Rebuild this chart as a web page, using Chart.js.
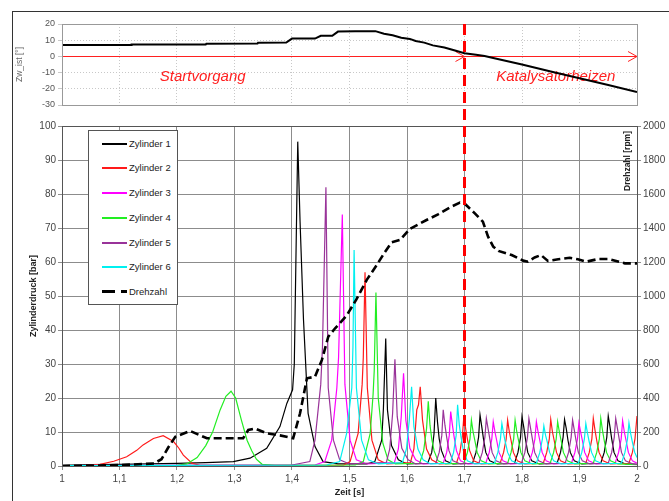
<!DOCTYPE html>
<html lang="de">
<head>
    <meta charset="UTF-8">
    <title>Zylinderdruck und Drehzahl</title>
    <script src="https://cdn.jsdelivr.net/npm/chart.js"></script>
    <style>
        body { margin: 0; background: #fff; font-family: "Liberation Sans", Arial, sans-serif; }
        #wrap { position: relative; width: 669px; height: 501px; overflow: hidden; }
        #wrap canvas { position: absolute; left: 0; top: 0; }
        .frame { position: absolute; left: 12px; top: 11px; width: 700px; height: 600px;
                 border-left: 1px solid #333; border-top: 1px solid #333; }
        #legend { position: absolute; left: 88px; top: 130px; width: 88px; height: 173px;
                  background: #fff; border: 1px solid #555; }
        .row { position: absolute; left: 0; height: 12px; font-size: 9.5px; color: #222; line-height: 12px; }
        .row .smp { position: absolute; left: 13px; top: 5px; width: 25px; height: 0; border-top: 2px solid #000; }
        .row .lbl { position: absolute; left: 40px; top: 0; white-space: nowrap; }
    </style>
</head>
<body>
<div id="wrap">
    <div class="frame"></div>
    <canvas id="mainChart" width="669" height="501"></canvas>
    <canvas id="angleChart" width="669" height="501"></canvas>
    <div id="legend"></div>
</div>

<script>
    // x axis tick labels (Zeit [s])
    const timeTicks = ['1', '1,1', '1,2', '1,3', '1,4', '1,5', '1,6', '1,7', '1,8', '1,9', '2'];
    const seriesNames = ['Zylinder 1', 'Zylinder 2', 'Zylinder 3', 'Zylinder 4', 'Zylinder 5', 'Zylinder 6', 'Drehzahl'];
    const seriesColors = ['#000000', '#ff1a1a', '#ff00ff', '#22ee22', '#993399', '#00f0f0', '#000000'];
    const markerTime = 1.7;

    // Zylinderdruck [bar], pairs [Zeit, Druck]
    const zyl1 = [[1.0,0.2],[1.05,0.4],[1.1,0.5],[1.15,0.6],[1.2,0.8],[1.25,1.0],[1.298,1.3],[1.327,2.3],[1.356,5.2],[1.379,11.6],[1.391,18.4],[1.401,22.4],[1.404,30],[1.41,95.4],[1.414,72],[1.42,43],[1.428,15.5],[1.44,5.7],[1.454,1.3],[1.48,0.6],
        [1.53,0.6],[1.544,1.3],[1.556,7.6],[1.559,17],[1.563,37.5],[1.566,16.5],[1.573,6],[1.585,1.8],[1.6,0.6],
        [1.636,0.8],[1.643,4],[1.647,9.5],[1.65,20],[1.653,13],[1.656,8],[1.66,4.5],[1.667,1.5],[1.68,0.6],
        [1.714,0.8],[1.72,4],[1.7245,8.5],[1.727,15],[1.73,11.6],[1.733,8],[1.737,4],[1.744,1.5],[1.757,0.6],
        [1.787,0.8],[1.793,4],[1.7975,8.5],[1.8,14.5],[1.803,11.5],[1.806,8],[1.81,4],[1.817,1.5],[1.83,0.6],
        [1.861,0.8],[1.867,4],[1.8715,8.5],[1.874,13.7],[1.877,11],[1.88,7.5],[1.884,4],[1.891,1.5],[1.904,0.6],
        [1.937,0.8],[1.943,4],[1.9475,8.5],[1.95,14.7],[1.953,11.5],[1.956,8],[1.96,4],[1.967,1.5],[1.98,0.6],[2.0,0.5]];
    const zyl2 = [[1.0,0.1],[1.04,0.2],[1.066,0.5],[1.09,1.4],[1.1125,2.7],[1.13,4.6],[1.141,6.2],[1.159,8.1],[1.176,8.9],[1.194,7.2],[1.203,5.3],[1.211,3.2],[1.226,0.8],[1.24,0.2],[1.49,0.3],
        [1.501,1.3],[1.515,9.6],[1.522,24],[1.524,32],[1.527,57],[1.531,23],[1.539,7.6],[1.55,1.8],[1.565,0.6],
        [1.606,1.0],[1.612,5],[1.617,16.5],[1.62,18],[1.623,23.3],[1.627,13.5],[1.634,5],[1.643,1.8],[1.656,0.6],
        [1.686,0.8],[1.692,4],[1.6965,9],[1.699,15],[1.702,11],[1.705,8],[1.709,4.5],[1.716,1.5],[1.729,0.6],
        [1.762,0.8],[1.768,4],[1.7725,8],[1.775,13.5],[1.778,10],[1.781,7.5],[1.785,4],[1.792,1.5],[1.805,0.6],
        [1.837,0.8],[1.843,4],[1.8475,8],[1.85,13.7],[1.853,10],[1.856,7.5],[1.86,4],[1.867,1.5],[1.88,0.6],
        [1.911,0.8],[1.917,4],[1.9215,8],[1.924,14],[1.927,10.5],[1.93,7.5],[1.934,4],[1.941,1.5],[1.954,0.6],
        [1.986,0.8],[1.992,4],[1.9965,8],[2.0,14.7]];
    const zyl3 = [[1.0,0.1],[1.44,0.3],[1.457,1.3],[1.469,7.6],[1.478,23],[1.481,32],[1.4875,74],[1.492,24],[1.501,7.6],[1.512,1.8],[1.53,0.6],
        [1.578,1.0],[1.585,5],[1.59,14.5],[1.594,27.3],[1.598,13.5],[1.605,5.2],[1.615,1.8],[1.628,0.6],
        [1.663,0.8],[1.669,4],[1.6735,9],[1.676,16],[1.679,12],[1.682,8.5],[1.686,4.5],[1.693,1.5],[1.706,0.6],
        [1.737,0.8],[1.743,4],[1.7475,8],[1.75,13],[1.753,10],[1.756,7.5],[1.76,4],[1.767,1.5],[1.78,0.6],
        [1.812,0.8],[1.818,4],[1.8225,8],[1.825,13],[1.828,10],[1.831,7.5],[1.835,4],[1.842,1.5],[1.855,0.6],
        [1.886,0.8],[1.892,4],[1.8965,8],[1.899,12.7],[1.902,10],[1.905,7.5],[1.909,4],[1.916,1.5],[1.929,0.6],
        [1.962,0.8],[1.968,4],[1.9725,8],[1.975,13.3],[1.978,10],[1.981,7.5],[1.985,4],[1.992,1.5],[2.0,0.8]];
    const zyl4 = [[1.0,0.1],[1.2,0.2],[1.217,0.6],[1.235,2.5],[1.25,6],[1.262,10],[1.275,16.5],[1.285,20.5],[1.294,22],[1.302,20],[1.312,13.5],[1.322,7.5],[1.33,4.5],[1.338,2],[1.348,0.5],[1.37,0.2],[1.51,0.3],
        [1.524,1.3],[1.536,9.6],[1.541,21],[1.543,28],[1.546,51],[1.55,20],[1.558,6.7],[1.567,1.8],[1.58,0.6],
        [1.622,0.8],[1.629,4.5],[1.634,11],[1.637,19],[1.64,12],[1.643,8],[1.647,4.5],[1.654,1.5],[1.667,0.6],
        [1.699,0.8],[1.705,4],[1.7095,8],[1.712,13.5],[1.715,10],[1.718,7.5],[1.722,4],[1.729,1.5],[1.742,0.6],
        [1.775,0.8],[1.781,4],[1.7855,8],[1.788,13.5],[1.791,10],[1.794,7.5],[1.798,4],[1.805,1.5],[1.818,0.6],
        [1.849,0.8],[1.855,4],[1.8595,8],[1.862,13],[1.865,10],[1.868,7.5],[1.872,4],[1.879,1.5],[1.892,0.6],
        [1.924,0.8],[1.93,4],[1.9345,8],[1.937,14],[1.94,10.5],[1.943,7.5],[1.947,4],[1.954,1.5],[1.967,0.6],[2.0,0.4]];
    const zyl5 = [[1.0,0.1],[1.4,0.3],[1.431,1.3],[1.44,7.6],[1.45,24],[1.453,35],[1.459,82],[1.463,23],[1.472,7.6],[1.483,1.8],[1.5,0.6],
        [1.564,1.0],[1.57,5],[1.575,15.5],[1.579,31.4],[1.583,14.5],[1.591,5.2],[1.602,1.8],[1.615,0.6],
        [1.65,0.8],[1.656,4],[1.6605,9],[1.663,16.5],[1.666,12],[1.669,8.5],[1.673,4.5],[1.68,1.5],[1.693,0.6],
        [1.725,0.8],[1.731,4],[1.7355,8.5],[1.738,14],[1.741,11],[1.744,8],[1.748,4],[1.755,1.5],[1.768,0.6],
        [1.799,0.8],[1.805,4],[1.8095,8.5],[1.812,14],[1.815,11],[1.818,8],[1.822,4],[1.829,1.5],[1.842,0.6],
        [1.875,0.8],[1.881,4],[1.8855,8.5],[1.888,13.5],[1.891,10.5],[1.894,7.5],[1.898,4],[1.905,1.5],[1.918,0.6],
        [1.95,0.8],[1.956,4],[1.9605,8.5],[1.963,14],[1.966,11],[1.969,8],[1.973,4],[1.98,1.5],[1.993,0.6],[2.0,0.5]];
    const zyl6 = [[1.0,0.1],[1.46,0.3],[1.483,1.3],[1.495,9.6],[1.504,23],[1.506,35],[1.508,63.5],[1.512,23],[1.521,7.6],[1.533,1.8],[1.55,0.6],
        [1.592,1.0],[1.599,5],[1.604,13.5],[1.608,23.3],[1.612,11.6],[1.619,5],[1.628,1.8],[1.641,0.6],
        [1.675,0.8],[1.681,4],[1.6855,9],[1.688,18],[1.691,12],[1.694,8.5],[1.698,4.5],[1.705,1.5],[1.718,0.6],
        [1.752,0.8],[1.758,4],[1.7625,8],[1.765,12.5],[1.768,9.5],[1.771,7],[1.775,4],[1.782,1.5],[1.795,0.6],
        [1.825,0.8],[1.831,4],[1.8355,8],[1.838,11.8],[1.841,9],[1.844,7],[1.848,4],[1.855,1.5],[1.868,0.6],
        [1.898,0.8],[1.904,4],[1.9085,8],[1.911,12.5],[1.914,9.5],[1.917,7],[1.921,4],[1.928,1.5],[1.941,0.6],
        [1.973,0.8],[1.979,4],[1.9835,8],[1.986,12.7],[1.989,9.5],[1.992,7],[1.996,4],[2.0,2.5]];

    // Drehzahl [rpm]
    const drehzahl = [[1.0,0],[1.1,5],[1.16,15],[1.173,40],[1.185,110],[1.197,172],[1.223,206],[1.252,163],[1.315,163],[1.324,212],[1.336,220],[1.356,192],[1.379,180],[1.402,163],
        [1.414,310],[1.426,516],[1.44,525],[1.452,624],[1.463,760],[1.475,810],[1.495,885],[1.512,980],[1.53,1095],[1.547,1180],[1.56,1250],[1.573,1315],[1.588,1330],[1.605,1395],
        [1.634,1447],[1.654,1480],[1.675,1522],[1.692,1549],[1.701,1541],[1.718,1486],[1.732,1437],[1.741,1349],[1.75,1290],[1.759,1265],[1.782,1241],[1.802,1208],[1.81,1202],
        [1.822,1227],[1.833,1241],[1.845,1206],[1.863,1216],[1.883,1225],[1.897,1216],[1.912,1202],[1.933,1218],[1.95,1218],[1.979,1192],[2.0,1192]];

    // Zw_ist [°]
    const zwIst = [[1.0,7],[1.12,7],[1.121,7.3],[1.25,7.4],[1.251,7.8],[1.34,7.9],[1.341,8.5],[1.39,8.6],[1.4,11],[1.44,11],[1.45,12.7],[1.47,12.7],[1.48,15.3],[1.51,15.6],[1.545,15.6],
        [1.56,14],[1.575,13],[1.59,11.5],[1.605,10.8],[1.615,9.5],[1.63,8.5],[1.645,6.8],[1.665,5.5],[1.685,3.5],[1.7,2],[1.72,1],[1.735,0.3],[1.75,-1],
        [1.8,-5],[1.85,-9.3],[1.9,-13.5],[1.95,-17.7],[2.0,-22]];

    const FONT = '"Liberation Sans", Arial, sans-serif';
    Chart.defaults.font.family = FONT;
    Chart.defaults.color = '#444';

    const tickLabel = (v, i) => timeTicks[i];
    const plainNumber = v => String(v);

    // ---- main chart (Zylinderdruck + Drehzahl) ----
    const mainDecor = {
        id: 'mainDecor',
        afterDraw(chart) {
            const {ctx, chartArea: a} = chart;
            ctx.save();
            ctx.strokeStyle = '#555';
            ctx.lineWidth = 1;
            ctx.strokeRect(a.left + 0.5, a.top + 0.5, a.right - a.left, a.bottom - a.top);
            ctx.translate(a.right - 9, a.top + 35);
            ctx.rotate(-Math.PI / 2);
            ctx.font = 'bold 8.5px ' + FONT;
            ctx.fillStyle = '#222';
            ctx.textAlign = 'center';
            ctx.textBaseline = 'middle';
            ctx.fillText('Drehzahl [rpm]', 0, 0);
            ctx.restore();
        }
    };

    const cylData = [zyl1, zyl2, zyl3, zyl4, zyl5, zyl6];
    const datasets = cylData.map((d, i) => ({
        label: seriesNames[i],
        data: d,
        borderColor: seriesColors[i],
        borderWidth: 1.2,
        pointRadius: 0,
        tension: 0,
        yAxisID: 'y',
        order: 6 - i
    }));
    datasets.push({
        label: seriesNames[6],
        data: drehzahl,
        borderColor: seriesColors[6],
        borderWidth: 2.6,
        borderDash: [8, 4],
        pointRadius: 0,
        tension: 0,
        yAxisID: 'y1',
        order: 0
    });

    const mainChart = new Chart(document.getElementById('mainChart'), {
        type: 'line',
        data: { datasets: datasets },
        options: {
            responsive: false,
            animation: false,
            devicePixelRatio: 1,
            layout: { padding: { left: 0, right: 0, top: 126, bottom: 0 } },
            plugins: { legend: { display: false }, tooltip: { enabled: false } },
            scales: {
                x: {
                    type: 'linear', min: 1, max: 2,
                    ticks: { stepSize: 0.1, callback: tickLabel, font: { size: 10 }, color: '#444', padding: 3, maxRotation: 0 },
                    grid: { color: '#8c8c8c', tickLength: 4 },
                    border: { color: '#555' },
                    title: { display: true, text: 'Zeit [s]', font: { size: 9, weight: 'bold' }, color: '#222', padding: { top: 0, bottom: 3 } },
                    afterFit: s => { s.height = 35; }
                },
                y: {
                    min: 0, max: 100,
                    ticks: { stepSize: 10, callback: plainNumber, font: { size: 10 }, color: '#444', padding: 2 },
                    grid: { color: '#8c8c8c', tickLength: 4 },
                    border: { color: '#555' },
                    title: { display: true, text: 'Zylinderdruck [bar]', font: { size: 9, weight: 'bold' }, color: '#222', padding: { top: 28, bottom: 0 } },
                    afterFit: s => { s.width = 62; }
                },
                y1: {
                    position: 'right', min: 0, max: 2000,
                    ticks: { stepSize: 200, callback: plainNumber, font: { size: 10 }, color: '#444', padding: 2 },
                    grid: { drawOnChartArea: false, color: '#8c8c8c', tickLength: 4 },
                    border: { color: '#555' },
                    afterFit: s => { s.width = 32; }
                }
            }
        },
        plugins: [mainDecor]
    });

    // ---- top chart (Zw_ist) ----
    const angleDecor = {
        id: 'angleDecor',
        beforeDatasetsDraw(chart) {
            const {ctx, chartArea: a, scales: {x, y}} = chart;
            const y0 = Math.round(y.getPixelForValue(0)) + 0.5;
            ctx.save();
            ctx.strokeStyle = '#ff2020';
            ctx.lineWidth = 1;
            ctx.beginPath();
            ctx.moveTo(a.left, y0);
            ctx.lineTo(a.right, y0);
            [x.getPixelForValue(markerTime), x.getPixelForValue(2)].forEach(px => {
                ctx.moveTo(px - 9, y0 - 5);
                ctx.lineTo(px, y0);
                ctx.lineTo(px - 9, y0 + 5);
            });
            ctx.stroke();
            ctx.font = 'italic 15px ' + FONT;
            ctx.fillStyle = '#ff2020';
            ctx.textBaseline = 'middle';
            ctx.fillText('Startvorgang', x.getPixelForValue(1.17), y.getPixelForValue(-12.5));
            ctx.fillText('Katalysatorheizen', x.getPixelForValue(1.755), y.getPixelForValue(-12.5));
            ctx.restore();
        },
        afterDraw(chart) {
            const {ctx, chartArea: a, scales: {x}} = chart;
            ctx.save();
            ctx.strokeStyle = '#999';
            ctx.lineWidth = 1;
            ctx.strokeRect(a.left + 0.5, a.top + 0.5, a.right - a.left, a.bottom - a.top);
            const px = x.getPixelForValue(markerTime);
            ctx.strokeStyle = '#ff0000';
            ctx.lineWidth = 3;
            ctx.setLineDash([11, 6]);
            ctx.beginPath();
            ctx.moveTo(px, a.top);
            ctx.lineTo(px, mainChart.chartArea.bottom);
            ctx.stroke();
            ctx.restore();
        }
    };

    new Chart(document.getElementById('angleChart'), {
        type: 'line',
        data: {
            datasets: [{
                label: 'Zw_ist',
                data: zwIst,
                borderColor: '#000',
                borderWidth: 2,
                pointRadius: 0,
                tension: 0
            }]
        },
        options: {
            responsive: false,
            animation: false,
            devicePixelRatio: 1,
            layout: { padding: { left: 0, right: 32, top: 24, bottom: 396 } },
            plugins: { legend: { display: false }, tooltip: { enabled: false } },
            scales: {
                x: {
                    type: 'linear', min: 1, max: 2,
                    ticks: { display: false, stepSize: 0.1 },
                    grid: { color: '#c8c8c8', drawTicks: false },
                    border: { display: false, dash: [1, 2] },
                    afterFit: s => { s.height = 0; }
                },
                y: {
                    min: -30, max: 20,
                    ticks: { stepSize: 10, callback: plainNumber, font: { size: 9 }, color: '#555', padding: 3 },
                    grid: { color: '#c8c8c8', tickLength: 4 },
                    border: { display: false, dash: [1, 2] },
                    title: { display: true, text: 'Zw_ist [°]', font: { size: 8.5 }, color: '#666', padding: { top: 15, bottom: 0 } },
                    afterFit: s => { s.width = 62; }
                }
            }
        },
        plugins: [angleDecor]
    });

    // ---- legend ----
    const rowTops = [7, 31, 56, 81, 106, 130, 155];
    const legend = document.getElementById('legend');
    seriesNames.forEach((name, i) => {
        const row = document.createElement('div');
        row.className = 'row';
        row.style.top = rowTops[i] + 'px';
        if (i < 6) {
            row.innerHTML = '<span class="smp" style="border-top-color:' + seriesColors[i] + '"></span><span class="lbl">' + name + '</span>';
        } else {
            row.innerHTML = '<span class="smp" style="width:13px;border-top-width:3px;top:4px"></span>' +
                '<span class="smp" style="left:32px;width:6px;border-top-width:3px;top:4px"></span><span class="lbl">' + name + '</span>';
        }
        legend.appendChild(row);
    });
</script>
</body>
</html>
